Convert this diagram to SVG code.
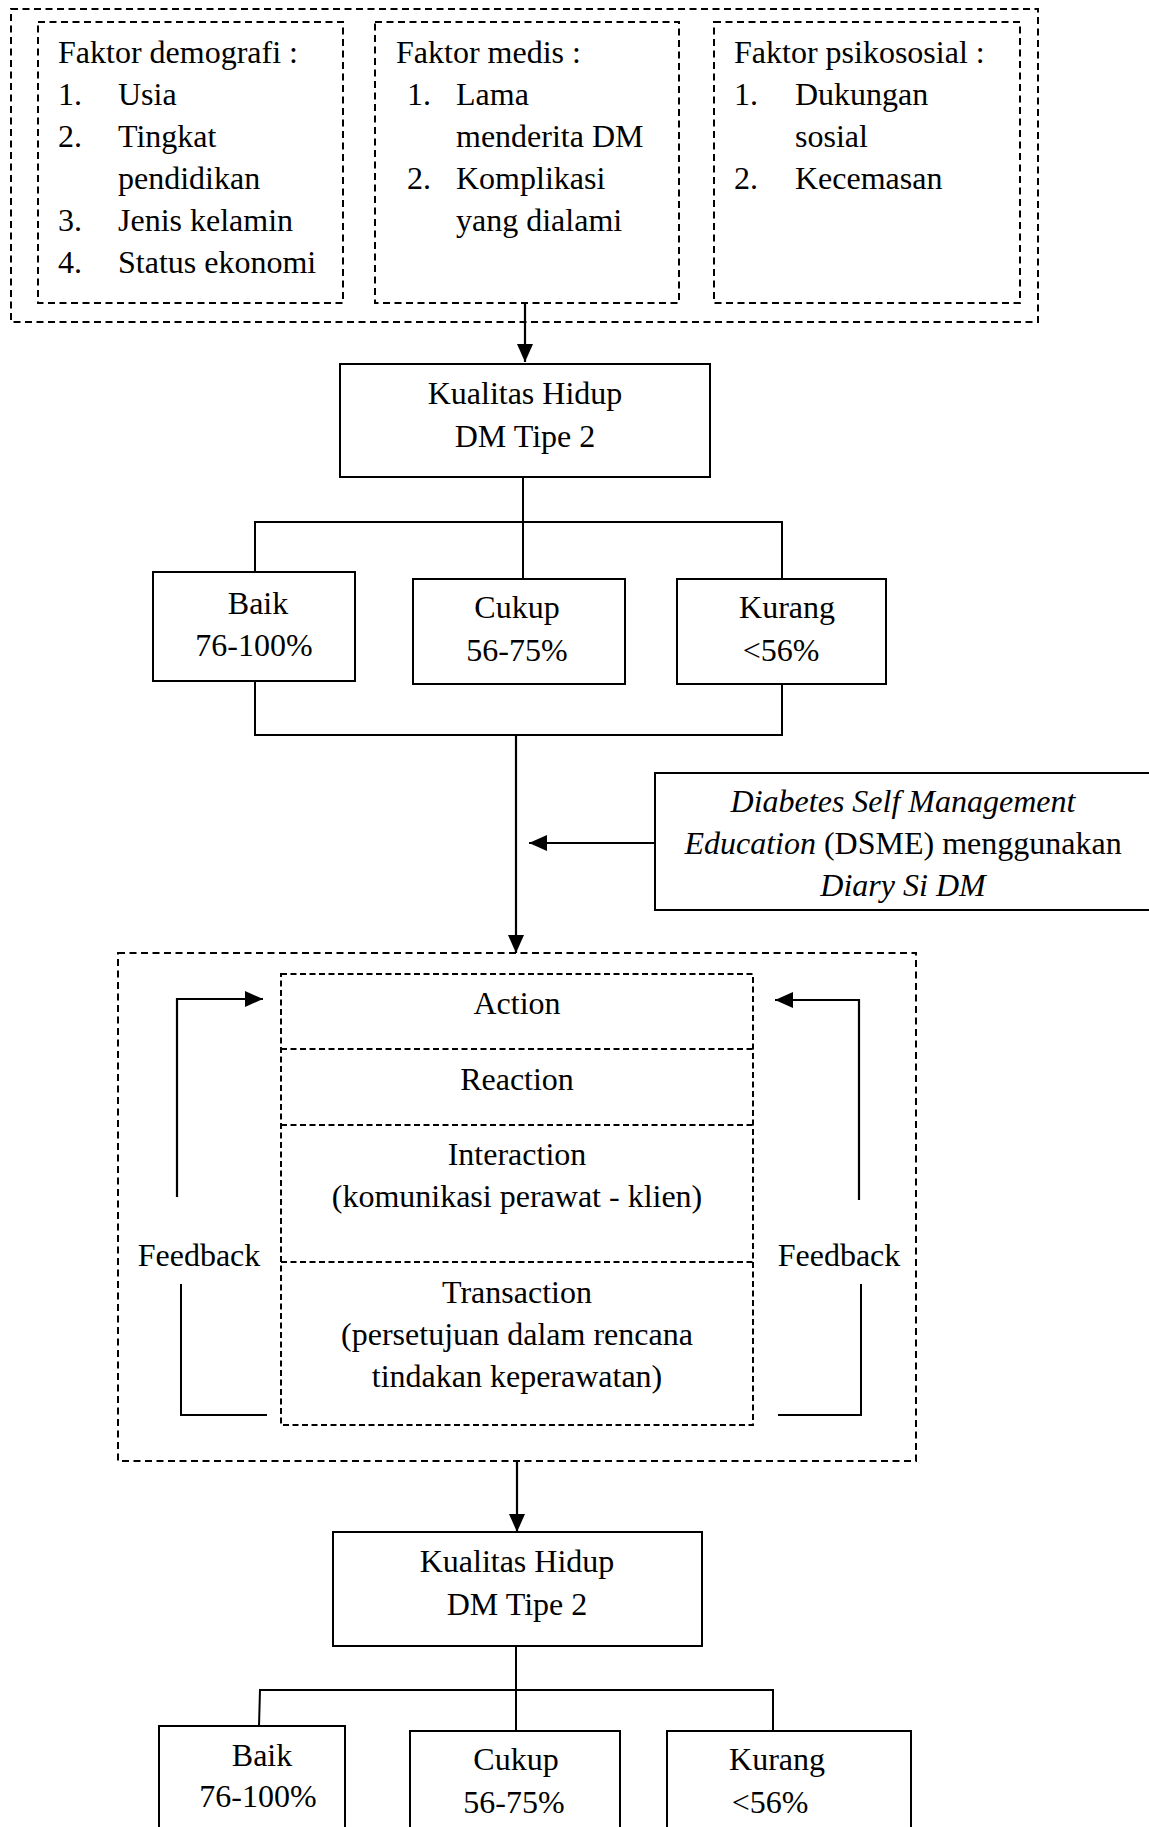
<svg xmlns="http://www.w3.org/2000/svg" width="1149" height="1827" viewBox="0 0 1149 1827">
<defs>
<marker id="ah" viewBox="0 0 18 16" refX="18" refY="8" markerWidth="18" markerHeight="16" markerUnits="userSpaceOnUse" orient="auto"><path d="M0,0 L18,8 L0,16 Z" fill="#000"/></marker>
<style>
text{font-family:"Liberation Serif","Times New Roman",serif;font-size:32px;fill:#000}
.c{text-anchor:middle}
.i{font-style:italic}
.solid{fill:#fff;stroke:#000;stroke-width:2}
.dash{fill:none;stroke:#000;stroke-width:2;stroke-dasharray:7 4.5}
.dash2{fill:none;stroke:#000;stroke-width:2;stroke-dasharray:6 3.5}
.ln{fill:none;stroke:#000;stroke-width:2}
.arr{fill:none;stroke:#000;stroke-width:2.2;marker-end:url(#ah)}
</style>
</defs>
<rect width="1149" height="1827" fill="#fff"/>

<g id="faktor-group">
<rect class="dash" x="11" y="9" width="1027" height="313"/>
</g>
<g id="faktor-demografi">
<rect class="dash" x="38" y="22" width="305" height="281"/>
<text x="58" y="63">Faktor demografi :</text>
<text x="58" y="105">1.</text><text x="118" y="105">Usia</text>
<text x="58" y="147">2.</text><text x="118" y="147">Tingkat</text>
<text x="118" y="189">pendidikan</text>
<text x="58" y="231">3.</text><text x="118" y="231">Jenis kelamin</text>
<text x="58" y="273">4.</text><text x="118" y="273">Status ekonomi</text>
</g>
<g id="faktor-medis">
<rect class="dash" x="375" y="22" width="304" height="281"/>
<text x="396" y="63">Faktor medis :</text>
<text x="407" y="105">1.</text><text x="456" y="105">Lama</text>
<text x="456" y="147">menderita DM</text>
<text x="407" y="189">2.</text><text x="456" y="189">Komplikasi</text>
<text x="456" y="231">yang dialami</text>
</g>
<g id="faktor-psikososial">
<rect class="dash" x="714" y="22" width="306" height="281"/>
<text x="734" y="63">Faktor psikososial :</text>
<text x="734" y="105">1.</text><text x="795" y="105">Dukungan</text>
<text x="795" y="147">sosial</text>
<text x="734" y="189">2.</text><text x="795" y="189">Kecemasan</text>
</g>

<g id="connectors">
<line class="arr" x1="525" y1="303" x2="525" y2="362"/>
<polyline class="ln" points="523,477 523,522"/>
<polyline class="ln" points="255,572 255,522 782,522 782,579"/>
<line class="ln" x1="523" y1="522" x2="523" y2="579"/>
<polyline class="ln" points="255,681 255,735 782,735 782,684"/>
<line class="arr" x1="516" y1="735" x2="516" y2="953"/>
<line class="arr" x1="655" y1="843" x2="529" y2="843"/>
<polyline class="arr" points="177,1197 177,999 263,999"/>
<polyline class="ln" points="181,1284 181,1415 267,1415"/>
<polyline class="arr" points="859,1200 859,1000 775,1000"/>
<polyline class="ln" points="861,1284 861,1415 778,1415"/>
<line class="arr" x1="517" y1="1461" x2="517" y2="1532"/>
<line class="ln" x1="516" y1="1646" x2="516" y2="1731"/>
<polyline class="ln" points="259,1726 260,1690 773,1690 773,1731"/>
</g>

<g id="kualitas-hidup-1">
<rect class="solid" x="340" y="364" width="370" height="113"/>
<text class="c" x="525" y="404">Kualitas Hidup</text>
<text class="c" x="525" y="447">DM Tipe 2</text>
</g>
<g id="baik-1">
<rect class="solid" x="153" y="572" width="202" height="109"/>
<text class="c" x="258" y="614">Baik</text>
<text class="c" x="254" y="656">76-100%</text>
</g>
<g id="cukup-1">
<rect class="solid" x="413" y="579" width="212" height="105"/>
<text class="c" x="517" y="618">Cukup</text>
<text class="c" x="517" y="661">56-75%</text>
</g>
<g id="kurang-1">
<rect class="solid" x="677" y="579" width="209" height="105"/>
<text class="c" x="787" y="618">Kurang</text>
<text class="c" x="781" y="661">&lt;56%</text>
</g>

<g id="dsme">
<rect class="solid" x="655" y="773" width="510" height="137"/>
<text class="c" x="903" y="812"><tspan class="i">Diabetes Self Management</tspan></text>
<text class="c" x="903" y="854"><tspan class="i">Education</tspan> (DSME) menggunakan</text>
<text class="c" x="903" y="896"><tspan class="i">Diary Si DM</tspan></text>
</g>

<g id="interaksi-group">
<rect class="dash" x="118" y="953" width="798" height="508"/>
<rect class="dash2" x="281" y="974" width="472" height="451"/>
</g>
<g id="action">
<text class="c" x="517" y="1014">Action</text>
</g>
<g id="reaction">
<line class="dash2" x1="281" y1="1049" x2="753" y2="1049"/>
<text class="c" x="517" y="1090">Reaction</text>
</g>
<g id="interaction">
<line class="dash2" x1="281" y1="1125" x2="753" y2="1125"/>
<text class="c" x="517" y="1165">Interaction</text>
<text class="c" x="517" y="1207">(komunikasi perawat - klien)</text>
</g>
<g id="transaction">
<line class="dash2" x1="281" y1="1262" x2="753" y2="1262"/>
<text class="c" x="517" y="1303">Transaction</text>
<text class="c" x="517" y="1345">(persetujuan dalam rencana</text>
<text class="c" x="517" y="1387">tindakan keperawatan)</text>
</g>
<g id="feedback-left">
<text class="c" x="199" y="1266">Feedback</text>
</g>
<g id="feedback-right">
<text class="c" x="839" y="1266">Feedback</text>
</g>

<g id="kualitas-hidup-2">
<rect class="solid" x="333" y="1532" width="369" height="114"/>
<text class="c" x="517" y="1572">Kualitas Hidup</text>
<text class="c" x="517" y="1615">DM Tipe 2</text>
</g>
<g id="baik-2">
<rect class="solid" x="159" y="1726" width="186" height="130"/>
<text class="c" x="262" y="1766">Baik</text>
<text class="c" x="258" y="1807">76-100%</text>
</g>
<g id="cukup-2">
<rect class="solid" x="410" y="1731" width="210" height="125"/>
<text class="c" x="516" y="1770">Cukup</text>
<text class="c" x="514" y="1813">56-75%</text>
</g>
<g id="kurang-2">
<rect class="solid" x="667" y="1731" width="244" height="125"/>
<text class="c" x="777" y="1770">Kurang</text>
<text class="c" x="770" y="1813">&lt;56%</text>
</g>
</svg>
